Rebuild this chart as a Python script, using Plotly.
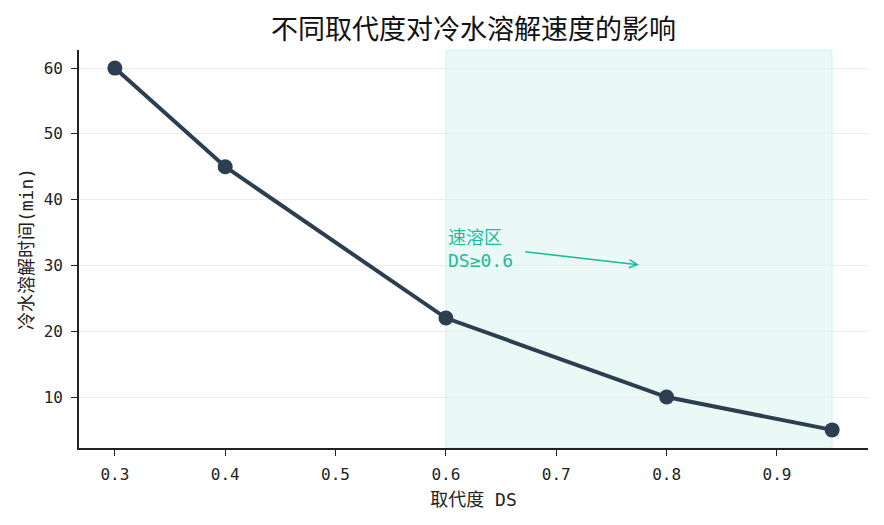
import plotly.graph_objects as go

# degree of substitution vs. cold-water dissolution time
ds = [0.3, 0.4, 0.6, 0.8, 0.95]
dissolve_min = [60, 45, 22, 10, 5]

x_ticks = [0.3, 0.4, 0.5, 0.6, 0.7, 0.8, 0.9]
y_ticks = [10, 20, 30, 40, 50, 60]

fast_zone = (0.6, 0.95)
arrow_head = (0.775, 30.1)
arrow_tail = (0.6705, 32.1)
label_pos = (0.6, 32.5)

FONT = "DejaVu Sans Mono, Noto Sans CJK SC, sans-serif"
LINE = "#2c3e50"
ACCENT = "#1abc9c"

fig = go.Figure()
fig.add_trace(go.Scatter(
    x=ds, y=dissolve_min, mode="lines+markers",
    line=dict(color=LINE, width=4),
    marker=dict(size=15, color=LINE),
    showlegend=False,
))

fig.add_shape(
    type="rect", xref="x", yref="paper",
    x0=fast_zone[0], x1=fast_zone[1], y0=0, y1=1,
    fillcolor="rgba(26,188,156,0.09)", line=dict(color="rgba(26,188,156,0.15)", width=1),
    layer="below",
)

fig.add_annotation(
    x=arrow_head[0], y=arrow_head[1], ax=arrow_tail[0], ay=arrow_tail[1],
    axref="x", ayref="y", xref="x", yref="y", text="",
    showarrow=True, arrowhead=5, arrowsize=1, arrowwidth=1.6, arrowcolor=ACCENT,
)
fig.add_annotation(
    x=label_pos[0], y=label_pos[1], xref="x", yref="y", xanchor="left", yanchor="middle",
    text="速溶区<br>DS≥0.6", showarrow=False, align="left",
    font=dict(family=FONT, size=18, color=ACCENT),
)

axis_common = dict(
    showline=True, linecolor="#222", linewidth=1.6, ticks="outside",
    ticklen=6, tickwidth=1.3, tickcolor="#222", zeroline=False, automargin=False,
    ticklabelstandoff=5,
    tickfont=dict(family=FONT, size=16, color="#222"),
)

# page body adds an 8px offset, so margins are shifted to compensate
fig.update_layout(
    width=884, height=525,
    margin=dict(l=71, r=24, t=42, b=85),
    paper_bgcolor="white", plot_bgcolor="white",
    font=dict(family=FONT, color="#222"),
    title=dict(
        text="不同取代度对冷水溶解速度的影响", x=0.5, xanchor="center",
        xref="paper", y=1 - 22 / 525, yanchor="middle",
        font=dict(family=FONT, size=27, color="#111"),
    ),
    xaxis=dict(
        **axis_common, range=[0.2675, 0.9825], tickvals=x_ticks,
        ticktext=[f"{v:.1f}" for v in x_ticks], showgrid=False,
        title=dict(text="取代度 DS", font=dict(family=FONT, size=18), standoff=10),
    ),
    yaxis=dict(
        **axis_common, range=[2.25, 62.75], tickvals=y_ticks,
        showgrid=True, gridcolor="#ececec", gridwidth=1,
        title=dict(text="冷水溶解时间(min)", font=dict(family=FONT, size=18), standoff=5),
    ),
)

fig.write_html("out.html")
